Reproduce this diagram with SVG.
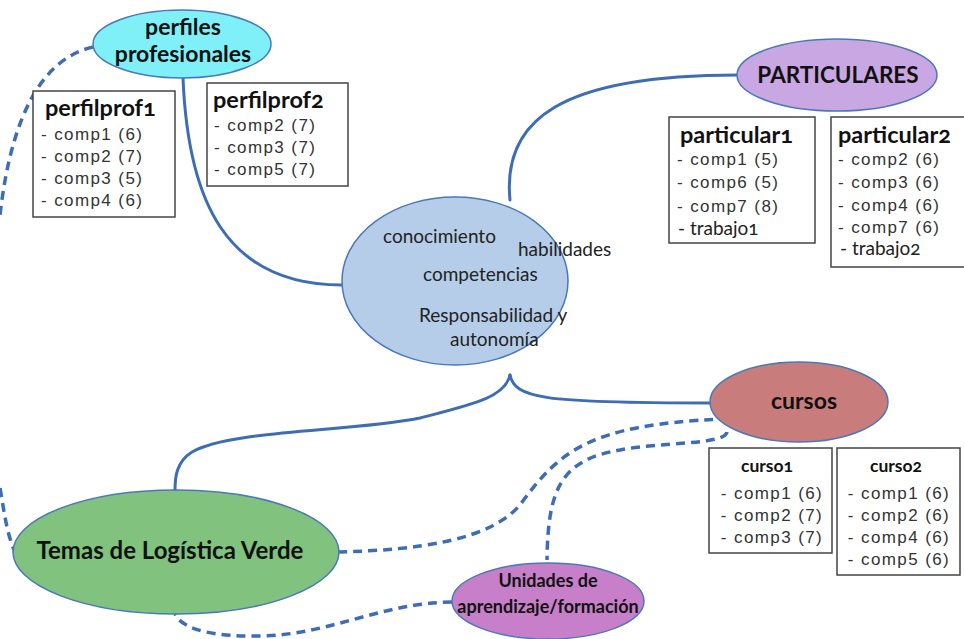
<svg xmlns="http://www.w3.org/2000/svg" width="964" height="639" viewBox="0 0 964 639">
  <style>
    .link { fill: none; stroke: #3e6db4; stroke-width: 3; stroke-linecap: round; }
    .dash { fill: none; stroke: #3e6db4; stroke-width: 3.5; stroke-dasharray: 9 6; }
    .node { stroke: #4a78b8; stroke-width: 1.5; }
    .box { fill: #ffffff; stroke: #444444; stroke-width: 1.5; }
    .head { font-family: Lato, "Open Sans", sans-serif; font-weight: bold; fill: #111111; }
    .onum { font-variant-numeric: oldstyle-nums; }
    .item { font-family: "Liberation Sans", Arial, sans-serif; font-size: 17px; fill: #333333; letter-spacing: 1.4px; }
    .soft { font-family: Lato, "Open Sans", sans-serif; font-size: 19px; fill: #222222; }
    .mid { text-anchor: middle; }
  </style>

  <rect width="964" height="639" fill="#ffffff"/>

  <!-- connectors -->
  <g id="connectors">
    <path class="link" d="M183,78 C188,200 225,285 342,285"/>
    <path class="link" d="M510,200 C502,120 560,75 738,75"/>
    <path class="link" d="M510,375 C515,398 540,403 710,403"/>
    <path class="link" d="M510,375 C505,398 470,405 420,418 C350,432 230,430 192,452 C176,462 175,478 175,490"/>
    <path class="dash" d="M93,47 C45,58 12,110 0,215"/>
    <path class="dash" d="M0,488 C4,510 6,530 14,550"/>
    <path class="dash" d="M338,552 C420,550 490,540 520,505 C560,450 590,425 722,419"/>
    <path class="dash" d="M727,432 C725,445 660,442 620,450 C560,460 548,490 547,560"/>
    <path class="dash" d="M452,602 C380,603 330,635 260,636 C200,637 180,625 175,614"/>
  </g>

  <!-- perfiles profesionales -->
  <g id="perfiles">
    <ellipse class="node" cx="182" cy="44" rx="89" ry="34" fill="#7ff0f7"/>
    <text class="head mid" x="183" y="35" font-size="23">perfiles</text>
    <text class="head mid" x="183" y="62" font-size="23">profesionales</text>
  </g>

  <g id="perfilprof1">
    <rect class="box" x="33" y="91" width="142" height="126"/>
    <text class="head onum" x="45" y="116" font-size="23.5">perfilprof1</text>
    <text class="item" x="41" y="140">- comp1 (6)</text>
    <text class="item" x="41" y="162">- comp2 (7)</text>
    <text class="item" x="41" y="184">- comp3 (5)</text>
    <text class="item" x="41" y="206">- comp4 (6)</text>
  </g>

  <g id="perfilprof2">
    <rect class="box" x="207" y="83" width="141" height="103"/>
    <text class="head onum" x="213" y="108" font-size="23.5">perfilprof2</text>
    <text class="item" x="214" y="131">- comp2 (7)</text>
    <text class="item" x="214" y="153">- comp3 (7)</text>
    <text class="item" x="214" y="175">- comp5 (7)</text>
  </g>

  <!-- central node -->
  <g id="centro">
    <ellipse class="node" cx="455" cy="281" rx="113" ry="84" fill="#b6cde9"/>
    <text class="soft" x="383" y="243">conocimiento</text>
    <text class="soft" x="518" y="256">habilidades</text>
    <text class="soft" x="423" y="281">competencias</text>
    <text class="soft" x="419" y="322">Responsabilidad y</text>
    <text class="soft" x="450" y="346">autonomía</text>
  </g>

  <!-- PARTICULARES -->
  <g id="particulares">
    <ellipse class="node" cx="837" cy="75" rx="100" ry="36" fill="#c9a7e2"/>
    <text class="head mid" x="838" y="83" font-size="22.5">PARTICULARES</text>
  </g>

  <g id="particular1">
    <rect class="box" x="669" y="117" width="146" height="126"/>
    <text class="head onum" x="680" y="143" font-size="23.5">particular1</text>
    <text class="item" x="677" y="165">- comp1 (5)</text>
    <text class="item" x="677" y="188">- comp6 (5)</text>
    <text class="item" x="677" y="212">- comp7 (8)</text>
    <text class="soft onum" x="678" y="235" font-size="16">- trabajo1</text>
  </g>

  <g id="particular2">
    <rect class="box" x="831" y="117" width="134" height="150"/>
    <text class="head onum" x="838" y="143" font-size="23.5">particular2</text>
    <text class="item" x="838" y="165">- comp2 (6)</text>
    <text class="item" x="838" y="188">- comp3 (6)</text>
    <text class="item" x="838" y="211">- comp4 (6)</text>
    <text class="item" x="838" y="233">- comp7 (6)</text>
    <text class="soft onum" x="840" y="255" font-size="15">- trabajo2</text>
  </g>

  <!-- cursos -->
  <g id="cursos">
    <ellipse class="node" cx="799" cy="402" rx="89" ry="40" fill="#c87d7c"/>
    <text class="head mid" x="804" y="409" font-size="23">cursos</text>
  </g>

  <g id="curso1">
    <rect class="box" x="709" y="448" width="123" height="105"/>
    <text class="head mid onum" x="767" y="472" font-size="17.5">curso1</text>
    <text class="item mid" x="772" y="499">- comp1 (6)</text>
    <text class="item mid" x="772" y="521">- comp2 (7)</text>
    <text class="item mid" x="772" y="543">- comp3 (7)</text>
  </g>

  <g id="curso2">
    <rect class="box" x="837" y="448" width="123" height="127"/>
    <text class="head mid onum" x="896" y="472" font-size="17.5">curso2</text>
    <text class="item mid" x="899" y="499">- comp1 (6)</text>
    <text class="item mid" x="899" y="521">- comp2 (6)</text>
    <text class="item mid" x="899" y="543">- comp4 (6)</text>
    <text class="item mid" x="899" y="565">- comp5 (6)</text>
  </g>

  <!-- Temas de Logística Verde -->
  <g id="temas">
    <ellipse class="node" cx="176" cy="552" rx="163" ry="62" fill="#80c27e"/>
    <text class="head mid" x="170" y="559" font-size="24">Temas de Logística Verde</text>
  </g>

  <!-- Unidades de aprendizaje/formación -->
  <g id="unidades">
    <ellipse class="node" cx="548" cy="601" rx="96" ry="38" fill="#c77fc9"/>
    <text class="head mid" x="548" y="587" font-size="18">Unidades de</text>
    <text class="head mid" x="548" y="613" font-size="18">aprendizaje/formación</text>
  </g>
</svg>
